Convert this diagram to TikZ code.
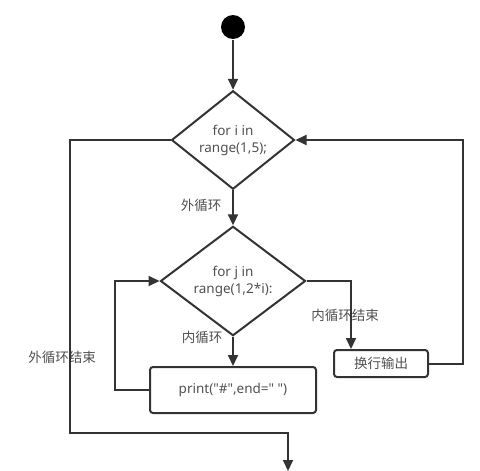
\documentclass[tikz,border=0pt]{standalone}
\usepackage{fontspec}
\setmainfont{Noto Sans}
\newfontfamily\plainlatin{Noto Sans}
\newfontfamily\cjk{Noto Sans CJK SC}
\usepackage{xcolor}
\usetikzlibrary{shapes.geometric,arrows.meta}

\definecolor{linegray}{HTML}{333333}
\definecolor{textgray}{HTML}{505050}

\begin{document}
\begin{tikzpicture}[x=1pt,y=-1pt,line width=2pt,draw=linegray,
		>={Triangle[length=11pt,width=10pt]},
		font=\fontsize{13.5}{17}\selectfont,text=textgray,
		decision/.style={diamond,draw,inner sep=0pt,align=center},
		process/.style={rectangle,draw,rounded corners=3pt,inner sep=0pt},
		startdot/.style={circle,fill=black,minimum size=24pt,inner sep=0pt},
		cn/.style={font=\cjk\fontsize{13.5}{17}\selectfont}]
			\useasboundingbox (0,0) rectangle (480,471);
			\node[startdot] (start) at (233,27) {};
			\node[decision,minimum width=123pt,minimum height=84pt] (outer) at (233,140) {for i in\\range(1,5);};
			\node[decision,minimum width=145pt,minimum height=77pt] (inner) at (233,281) {for j in\\range(1,2*i):};
			\node[process,font=\plainlatin\fontsize{13.5}{17}\selectfont,minimum width=166pt,minimum height=46pt] (print) at (233,390) {print("\#",end=" ")};
			\node[process,cn,minimum width=94pt,minimum height=27pt] (newline) at (381,363.5) {换行输出};
			\coordinate (exit) at (288,471);
			
			\node[cn] (outerloop) at (201,205) {外循环};
			\node[cn] (innerloop) at (202,337) {内循环};
			\node[cn] (innerend) at (345,315) {内循环结束};
			\node[cn] (outerend) at (62,357) {外循环结束};
			
			\draw[->] (start) -- (outer);
			\draw[->] (outer) -- (inner);
			\draw[->] (inner) -- (print);
			\draw[->] (print.west) -- (115,390) |- (inner.west);
			\draw[->] (inner.east) -| ([xshift=18pt]newline.north west);
			\draw[->] (newline.east) -- (463,363.5) |- (outer.east);
			\draw[->] (outer.west) -| (70,433) -| (exit);
		\end{tikzpicture}
\end{document}
